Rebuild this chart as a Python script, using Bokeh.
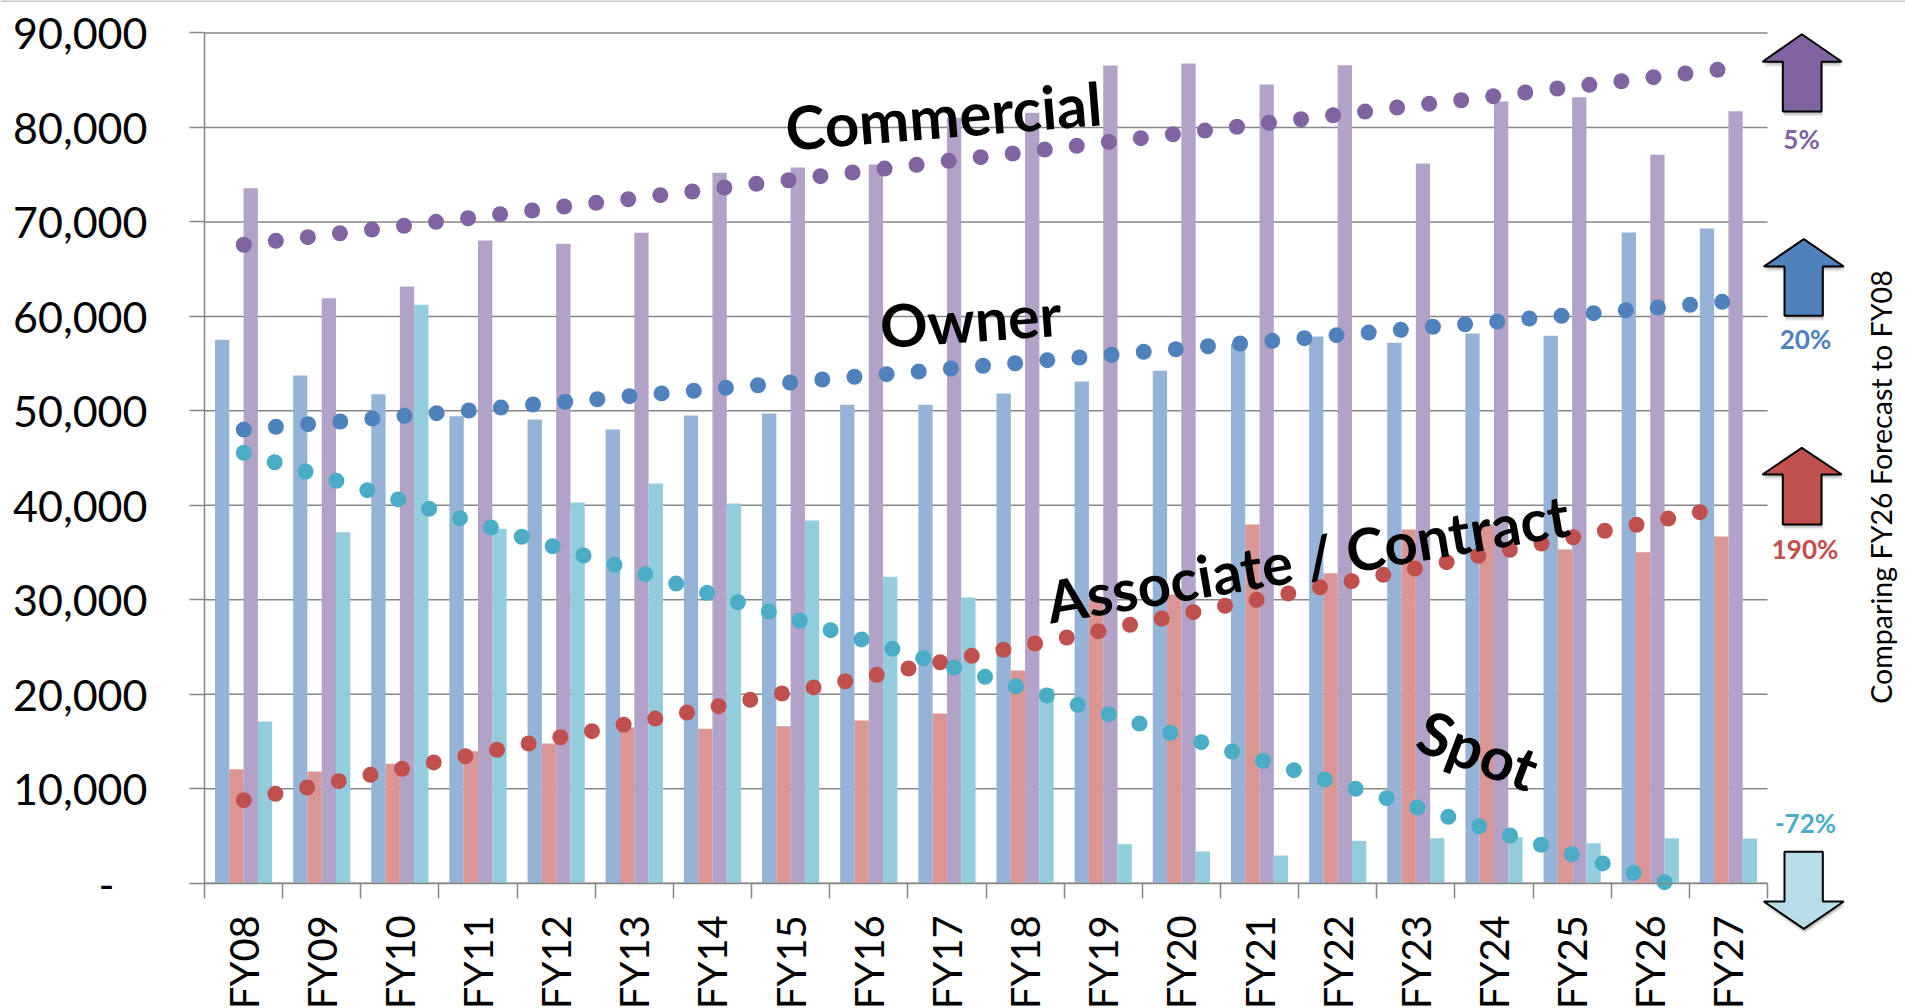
from bokeh.plotting import figure
from bokeh.embed import file_html
from bokeh.resources import INLINE
from bokeh.core.properties import value
from bokeh.models import FixedTicker, NumeralTickFormatter, Range1d
import numpy as np

fiscal_years = ["FY08","FY09","FY10","FY11","FY12","FY13","FY14","FY15","FY16","FY17",
                "FY18","FY19","FY20","FY21","FY22","FY23","FY24","FY25","FY26","FY27"]
y_ticks = [0,10000,20000,30000,40000,50000,60000,70000,80000,90000]

owner_bars = [57520,53740,51760,49430,49080,48020,49510,49720,50640,50640,
              51840,53110,54240,57100,57870,57200,58190,57940,68880,69300]
contract_bars = [12070,11820,12640,13970,14790,16480,16340,16620,17220,17960,
                 22510,29920,30560,37970,32810,37440,37970,35320,35040,36700]
commercial_bars = [73570,61920,63160,68030,67680,68850,75200,75760,76070,81020,
                   81550,86550,86770,84540,86590,76180,82740,83200,77100,81720]
spot_bars = [17120,37150,61220,37520,40300,42310,40190,38390,32430,30240,
             20580,4130,3360,2930,4490,4760,4870,4230,4760,4730]

commercial_trend = [67580,68000,68380,68800,69190,69590,70010,70390,70810,71210,71630,72020,
                    72400,72830,73220,73640,74030,74410,74840,75230,75650,76040,76470,76850,
                    77240,77660,78050,78480,78860,79280,79670,80070,80490,80870,81290,81680,
                    82110,82500,82880,83300,83700,84120,84510,84890,85320,85710,86100]
owner_trend = [48020,48310,48590,48870,49190,49470,49750,50040,50350,50670,50960,51230,
               51550,51840,52120,52440,52710,53000,53320,53600,53880,54160,54480,54770,
               55040,55360,55650,55930,56250,56520,56840,57130,57410,57690,58010,58290,
               58580,58900,59170,59460,59770,60060,60340,60650,60940,61220,61540]
contract_trend = [8790,9460,10130,10800,11470,12110,12780,13440,14120,14790,15450,16090,
                  16770,17430,18070,18740,19410,20080,20720,21380,22060,22730,23390,24070,
                  24710,25370,26010,26670,27350,28020,28690,29360,30000,30670,31330,31970,
                  32640,33310,33980,34660,35290,35960,36620,37300,37940,38600,39270]
spot_trend = [45560,44560,43580,42590,41600,40620,39630,38640,37650,36670,35670,34690,
              33700,32710,31720,30740,29740,28760,27780,26780,25800,24810,23820,22830,
              21850,20850,19870,18880,17890,16900,15920,14930,13940,12960,11960,10980,
              9990,9000,8010,7030,6030,5050,4070,3070,2090,1100,110]

pct_labels = ["5%", "20%", "190%", "-72%"]
series_names = ["Commercial", "Owner", "Associate / Contract", "Spot"]
side_title = "Comparing FY26 Forecast to FY08"

FONT = "Lato"
GRID = "#868686"
C_PURPLE, C_BLUE, C_RED, C_CYAN = "#8064A2", "#4F81BD", "#C0504D", "#4BACC6"
B_PURPLE, B_BLUE, B_RED, B_CYAN = "#B3A2C7", "#95B3D7", "#D99694", "#93CDDD"

# page-pixel geometry: the frame fills the page, the axes sit at the zero lines
PAGE_W, PAGE_H = 1905, 1008
X0, CAT_W, Y0, PX_PER_UNIT = 204.0, 78.15, 882.7, 94.47 / 10000

def dx(px): return (px - X0) / CAT_W
def dy(py): return (Y0 - py) / PX_PER_UNIT

p = figure(width=PAGE_W, height=PAGE_H, output_backend="svg", toolbar_location=None,
           x_range=Range1d(dx(0), dx(PAGE_W)), y_range=Range1d(dy(PAGE_H), dy(0)),
           min_border_left=0, min_border_right=0, min_border_top=0, min_border_bottom=0)
p.outline_line_color = None
p.background_fill_color = "white"
p.xgrid.visible = False
p.ygrid.visible = False

# thin rule along the top of the page
p.segment(x0=[dx(0)], x1=[dx(PAGE_W)], y0=[dy(0.5)], y1=[dy(0.5)], line_color="#C8C8C8",
          line_width=2, level="underlay")

# horizontal gridlines stop at the last category
p.segment(x0=[0] * len(y_ticks), x1=[len(fiscal_years)] * len(y_ticks), y0=y_ticks, y1=y_ticks,
          line_color=GRID, line_width=1.5, level="underlay")

idx = np.arange(len(fiscal_years)) + 0.5
BW = 14.3 / CAT_W
for vals, off, col in [(owner_bars, -1.5, B_BLUE), (contract_bars, -0.5, B_RED),
                       (commercial_bars, 0.5, B_PURPLE), (spot_bars, 1.5, B_CYAN)]:
    p.vbar(x=idx + off * BW, top=vals, bottom=0, width=BW, fill_color=col, line_color=None)

# dotted trend lines
for vals, end_px, col in [(commercial_trend, 1717.0, C_PURPLE), (owner_trend, 1721.7, C_BLUE),
                          (contract_trend, 1699.3, C_RED), (spot_trend, 1664.0, C_CYAN)]:
    xs = np.linspace(dx(243.3), dx(end_px), len(vals))
    p.scatter(xs, vals, size=16, marker="circle", fill_color=col, line_color=None)

# axes
yax = p.yaxis[0]
yax.fixed_location = 0
yax.ticker = FixedTicker(ticks=y_ticks)
yax.formatter = NumeralTickFormatter(format="0,0")
yax.major_label_overrides = {0: "-\u00a0\u00a0\u00a0"}
yax.bounds = (0, y_ticks[-1])
yax.axis_line_color = GRID
yax.axis_line_width = 1.5
yax.major_tick_line_color = GRID
yax.major_tick_line_width = 1.5
yax.major_tick_in = 0
yax.major_tick_out = 15
yax.minor_tick_line_color = None
yax.major_label_standoff = 42
yax.major_label_text_font = FONT
yax.major_label_text_font_size = "43px"
yax.major_label_text_color = "black"

xax = p.xaxis[0]
xax.fixed_location = 0
xax.ticker = FixedTicker(ticks=[float(v) for v in idx],
                         minor_ticks=list(range(len(fiscal_years) + 1)))
xax.major_label_overrides = {float(c): f for c, f in zip(idx, fiscal_years)}
xax.bounds = (0, len(fiscal_years))
xax.axis_line_color = GRID
xax.axis_line_width = 1.5
xax.major_tick_line_color = None
xax.major_tick_in = 0
xax.major_tick_out = 15
xax.minor_tick_line_color = GRID
xax.minor_tick_line_width = 1.5
xax.minor_tick_in = 0
xax.minor_tick_out = 15
xax.major_label_orientation = np.pi / 2
xax.major_label_standoff = 17
xax.major_label_text_font = FONT
xax.major_label_text_font_size = "40px"
xax.major_label_text_color = "black"

# block arrows on the right, outlined in page pixels
def up_arrow(cx_l, cx_r, hl, hr, tip, ty, hy, by):
    return [tip, hr, cx_r, cx_r, cx_l, cx_l, hl], [ty, hy, hy, by, by, hy, hy]

def down_arrow(cx_l, cx_r, hl, hr, tip, ty, hy, by):
    return [cx_l, cx_r, cx_r, hr, tip, hl, cx_l], [by, by, hy, hy, ty, hy, hy]

arrows = [
    (up_arrow(1782.3, 1821, 1762, 1841.3, 1801.3, 33.7, 61.3, 111), C_PURPLE),
    (up_arrow(1784, 1822.3, 1763.3, 1843.3, 1803.3, 238.7, 266, 315.3), C_BLUE),
    (up_arrow(1782.3, 1821, 1762, 1841.3, 1801.3, 447.3, 474, 524), C_RED),
    (down_arrow(1784, 1822.3, 1763.3, 1843.3, 1803.3, 928.3, 901, 851.3), "#B7DEE8"),
]
for (pxs, pys), col in arrows:
    for off, a in [(5, 0.10), (3.5, 0.14), (2, 0.18)]:
        p.patch([dx(v + 1) for v in pxs], [dy(v + off) for v in pys], fill_color="#404040",
                fill_alpha=a, line_color=None)
    p.patch([dx(v) for v in pxs], [dy(v) for v in pys], fill_color=col, line_color="black",
            line_width=2)

# percentage labels
for txt, px, py, col in zip(pct_labels, [1801, 1805, 1804.5, 1805], [138, 338, 548, 822],
                            [C_PURPLE, C_BLUE, C_RED, C_CYAN]):
    p.text(x=[dx(px)], y=[dy(py)], text=[txt], text_font=value(FONT), text_font_style="bold",
           text_font_size="26px", text_color=col, text_align="center", text_baseline="middle")

# side title
p.text(x=[dx(1880.5)], y=[dy(486.5)], text=[side_title], text_font=value(FONT), angle=90, angle_units="deg",
       text_font_size="28.6px", text_color="black", text_align="center", text_baseline="middle")

# series names written over the chart
for name, px, py, ang, fs in zip(series_names, [943, 970, 1307, 1478], [114.5, 319, 557, 749],
                                 [4.6, 4.0, 9.6, -20.7], ["60px", "59px", "58px", "60px"]):
    p.text(x=[dx(px)], y=[dy(py)], text=[name], text_font=value(FONT), text_font_style="bold",
           angle=ang, angle_units="deg", text_font_size=fs, text_color="black",
           text_align="center", text_baseline="alphabetic")

open("out.html", "w").write(file_html(p, INLINE))
